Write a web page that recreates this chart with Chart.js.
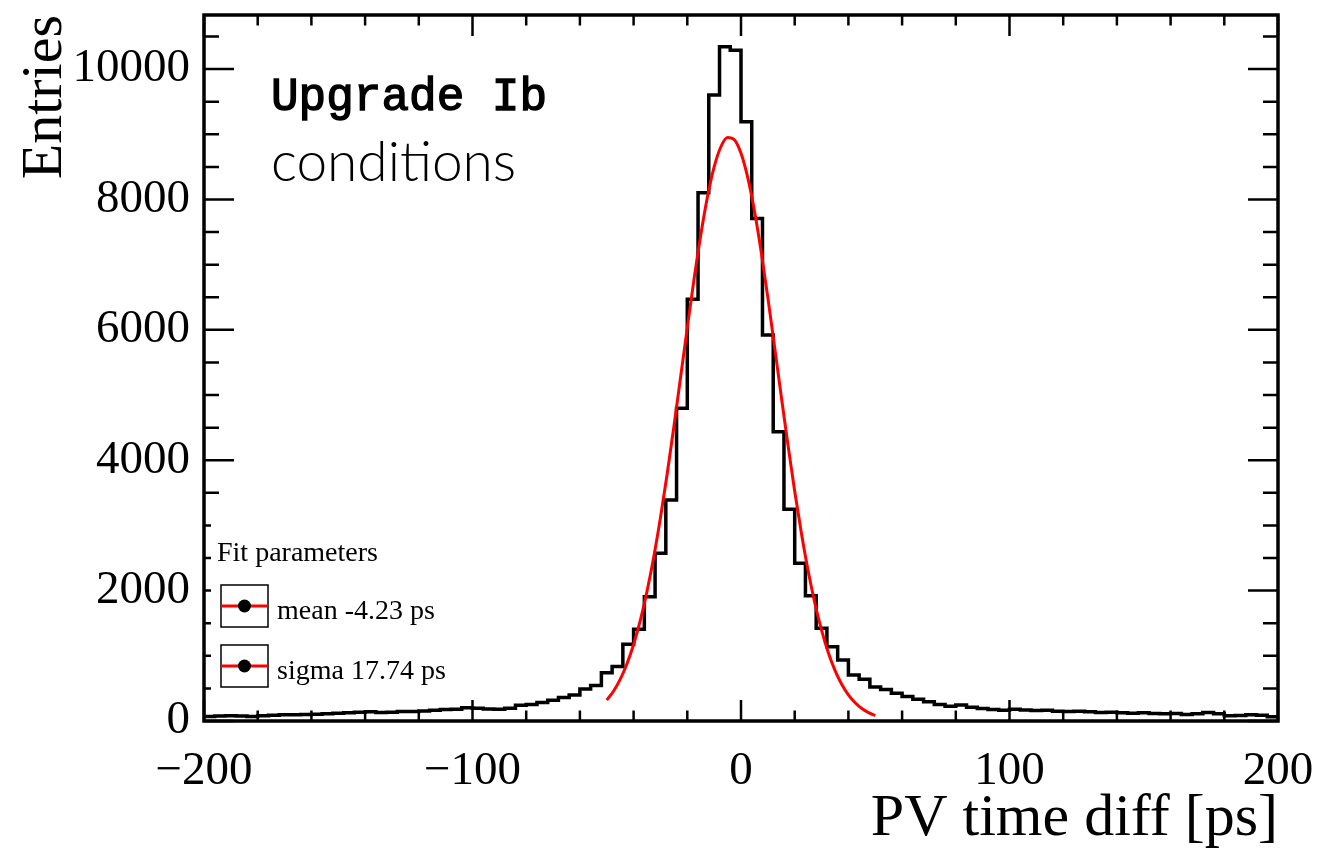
<!DOCTYPE html>
<html>
<head>
<meta charset="utf-8">
<script src="https://cdn.jsdelivr.net/npm/chart.js@4.4.1/dist/chart.umd.min.js"></script>
<style>
  html, body { margin: 0; padding: 0; background: #fff; }
  canvas { display: block; }
</style>
</head>
<body>
<canvas id="c" width="1340" height="849" style="width:1340px;height:849px"></canvas>
<script>
// ---- data ----
const binEdges = [
  -200,-196,-192,-188,-184,-180,-176,-172,-168,-164,-160,-156,-152,-148,-144,-140,-136,-132,-128,-124,
  -120,-116,-112,-108,-104,-100,-96,-92,-88,-84,-80,-76,-72,-68,-64,-60,-56,-52,-48,-44,
  -40,-36,-32,-28,-24,-20,-16,-12,-8,-4,0,4,8,12,16,20,24,28,32,36,
  40,44,48,52,56,60,64,68,72,76,80,84,88,92,96,100,104,108,112,116,
  120,124,128,132,136,140,144,148,152,156,160,164,168,172,176,180,184,188,192,196,200
];
const binCounts = [
  70,75,80,75,70,80,90,95,95,100,105,110,120,125,135,140,130,135,145,
  145,155,165,175,180,205,195,185,180,195,240,255,285,320,360,400,490,545,740,835,
  1176,1406,1907,2572,3390,4796,6468,8103,9601,10342,10291,9192,7710,5920,4437,3247,2418,1922,1421,1140,936,706,
  640,520,485,425,375,335,295,255,225,245,210,190,175,165,180,170,160,165,150,145,150,140,130,135,
  125,120,125,115,110,115,100,110,130,110,80,85,95,90,65
];
const fitX = [-50,-47.5,-45,-42.5,-40,-37.5,-35,-32.5,-30,-27.5,-25,-22.5,-20,-17.5,-15,-12.5,-10,-7.5,-5,-2.5,
  0,2.5,5,7.5,10,12.5,15,17.5,20,22.5,25,27.5,30,32.5,35,37.5,40,42.5,45,47.5,50];
const fitY = [321,457,639,874,1174,1544,1991,2517,3119,3790,4515,5272,6035,6774,7452,8037,8499,8809,8952,8917,
  8709,8338,7826,7201,6495,5743,4979,4232,3525,2880,2305,1810,1393,1050,777,563,400,279,191,128,84];
const xTickValues = [-200,-100,0,100,200];
const xTickLabels = ['\u2212200','\u2212100','0','100','200'];
const yTickValues = [0,2000,4000,6000,8000,10000];
const yTickLabels = ['0','2000','4000','6000','8000','10000'];
const xTitle = 'PV time diff [ps]';
const yTitle = 'Entries';
const labelLines = ['Upgrade Ib', 'conditions'];
const legendTitle = 'Fit parameters';
const legendEntries = ['mean -4.23 ps', 'sigma 17.74 ps'];

// ---- styling constants ----
const X_MIN = -200, X_MAX = 200, Y_MIN = 0, Y_MAX = 10830;
const X_MAJOR = 100, X_MINOR = 20, Y_MAJOR = 2000, Y_MINOR = 500;
const SERIF = "'Liberation Serif', 'Times New Roman', serif";

const histPoints = binEdges.map((x, i) => ({ x: x, y: binCounts[Math.min(i, binCounts.length - 1)] }));
const fitPoints = fitX.map((x, i) => ({ x: x, y: fitY[i] }));

const frameTicks = {
  id: 'frameTicks',
  afterDatasetsDraw(chart) {
    const { ctx, chartArea: a, scales: { x, y } } = chart;
    ctx.save();
    ctx.strokeStyle = '#000';
    ctx.lineWidth = 2.5;
    ctx.beginPath();
    for (let v = X_MIN; v <= X_MAX; v += X_MINOR) {
      const px = x.getPixelForValue(v);
      const L = (Math.abs(v % X_MAJOR) < 1e-9) ? 21 : 10.5;
      ctx.moveTo(px, a.bottom); ctx.lineTo(px, a.bottom - L);
      ctx.moveTo(px, a.top); ctx.lineTo(px, a.top + L);
    }
    for (let v = Y_MIN; v <= Y_MAX; v += Y_MINOR) {
      const py = y.getPixelForValue(v);
      const L = (Math.abs(v % Y_MAJOR) < 1e-9) ? 30 : 15;
      ctx.moveTo(a.left, py); ctx.lineTo(a.left + L, py);
      ctx.moveTo(a.right, py); ctx.lineTo(a.right - L, py);
    }
    ctx.stroke();
    ctx.lineWidth = 3.5;
    ctx.strokeRect(a.left, a.top, a.right - a.left, a.bottom - a.top);
    ctx.restore();
  }
};

const annotations = {
  id: 'annotations',
  afterDraw(chart) {
    const ctx = chart.ctx;
    ctx.save();
    ctx.fillStyle = '#000';
    ctx.strokeStyle = '#000';
    ctx.textAlign = 'left';
    ctx.textBaseline = 'alphabetic';
    ctx.font = "46px 'Liberation Mono', monospace";
    ctx.fillText(labelLines[0], 271, 110);
    ctx.lineWidth = 1.4;
    ctx.strokeText(labelLines[0], 271, 110);
    ctx.font = "300 55px Lato, 'Liberation Sans', sans-serif";
    ctx.fillText(labelLines[1], 271, 181);

    // legend
    ctx.fillStyle = '#fff';
    ctx.fillRect(211, 518, 250, 182);
    ctx.fillStyle = '#000';
    ctx.font = '28px ' + SERIF;
    ctx.fillText(legendTitle, 217, 561);
    const boxTops = [585, 645];
    legendEntries.forEach((txt, i) => {
      const top = boxTops[i];
      const cy = top + 21;
      ctx.strokeStyle = '#000';
      ctx.lineWidth = 1.5;
      ctx.strokeRect(221, top, 47, 42);
      ctx.strokeStyle = '#ff0000';
      ctx.lineWidth = 3;
      ctx.beginPath();
      ctx.moveTo(221, cy); ctx.lineTo(268, cy);
      ctx.stroke();
      ctx.fillStyle = '#000';
      ctx.beginPath();
      ctx.arc(244.5, cy, 6.5, 0, Math.PI * 2);
      ctx.fill();
      ctx.font = '28px ' + SERIF;
      ctx.fillText(txt, 277, cy + 12.5);
    });
    ctx.restore();
  }
};

new Chart(document.getElementById('c'), {
  type: 'line',
  data: {
    datasets: [
      { label: 'fit', data: fitPoints, borderColor: '#ff0000', borderWidth: 3, pointRadius: 0,
        cubicInterpolationMode: 'monotone', fill: false, order: 0 },
      { label: 'hist', data: histPoints, stepped: 'before', borderColor: '#000', borderWidth: 3.5,
        pointRadius: 0, fill: false, order: 1 }
    ]
  },
  options: {
    responsive: false,
    animation: false,
    devicePixelRatio: 1,
    layout: { padding: { top: 15, right: 62, left: 0, bottom: 0 } },
    plugins: { legend: { display: false }, tooltip: { enabled: false } },
    scales: {
      x: {
        type: 'linear', min: X_MIN, max: X_MAX,
        afterFit(s) { s.height = 128; s.paddingLeft = 0; s.paddingRight = 0; },
        afterBuildTicks(s) { s.ticks = xTickValues.map(v => ({ value: v })); },
        ticks: { callback: (v, i) => xTickLabels[i], font: { family: SERIF, size: 47 }, color: '#000',
                 padding: 22, maxRotation: 0, autoSkip: false },
        grid: { display: false, drawTicks: false },
        border: { display: false },
        title: { display: true, text: xTitle, align: 'end', color: '#000',
                 font: { family: SERIF, size: 60, lineHeight: 1 }, padding: { top: 2, bottom: 0 } }
      },
      y: {
        type: 'linear', min: Y_MIN, max: Y_MAX,
        afterFit(s) { s.width = 204; s.paddingTop = 0; s.paddingBottom = 0; },
        afterBuildTicks(s) { s.ticks = yTickValues.map(v => ({ value: v })); },
        ticks: { callback: (v, i) => yTickLabels[i], font: { family: SERIF, size: 47 }, color: '#000',
                 padding: 14, autoSkip: false },
        grid: { display: false, drawTicks: false },
        border: { display: false },
        title: { display: true, text: yTitle, align: 'end', color: '#000',
                 font: { family: SERIF, size: 58, lineHeight: 1 }, padding: { top: 17, bottom: 0 } }
      }
    }
  },
  plugins: [frameTicks, annotations]
});
</script>
</body>
</html>
